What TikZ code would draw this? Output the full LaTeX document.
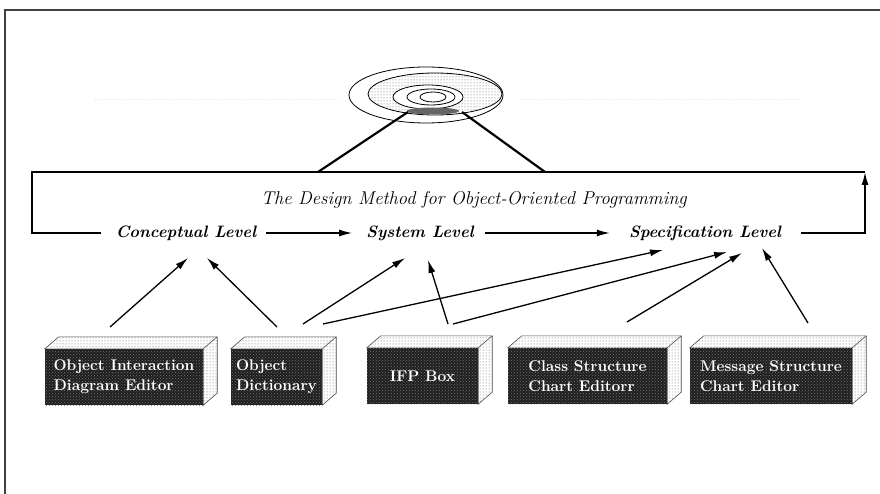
\documentclass[tikz,border=0pt]{standalone}
\usepackage{fontspec}
\usepackage{tikz}
\usetikzlibrary{arrows.meta,patterns}

\begin{document}
\begin{tikzpicture}[x=1pt,y=-1pt,>={Latex[length=13pt,width=7pt]}]
	\tikzstyle{every node}=[inner sep=0pt]
	\tikzstyle{level}=[font=\fontsize{16.5}{18}\selectfont\bfseries\itshape]
	\tikzstyle{tool}=[fill=black!88, postaction={pattern=crosshatch dots, pattern color=black!55}, text=white, font=\fontsize{15.5}{20}\selectfont\bfseries, align=left, minimum height=56pt]
	\tikzstyle{face}=[draw=black!70, line width=0.6pt, pattern=dots, pattern color=black!65]
	\tikzstyle{link}=[->, line width=1.3pt]
	\tikzstyle{loop}=[line width=1.6pt]
	
	\useasboundingbox (0,0) rectangle (880,494);
	
	% outer frame
	\draw[black!75, line width=1.4pt] (5,494) -- (5,10) -- (880,10);
	\draw[black!12, dotted, line width=1pt] (95,100) -- (340,100) (520,100) -- (800,100);
	
	% the target
	\filldraw[fill=white, line width=0.8pt] (426,95) ellipse [x radius=77, y radius=28];
	\draw[pattern=dots, pattern color=black!65, line width=0.8pt] (435,94) ellipse [x radius=67, y radius=21];
	\filldraw[fill=white, line width=0.8pt] (428,97) ellipse [x radius=35, y radius=12];
	\draw[line width=0.8pt] (431,97) ellipse [x radius=24, y radius=8];
	\draw[line width=0.8pt] (433,97) ellipse [x radius=13, y radius=5];
	\fill[black!60] (433,111) ellipse [x radius=26, y radius=3.5];
	
	% levels
	\node (title) at (474,200) {\fontsize{18.5}{20}\selectfont\itshape The Design Method for Object-Oriented Programming};
	\node[level] (con) at (186,233) {Conceptual Level};
	\node[level] (sys) at (420,233) {System Level};
	\node[level] (spec) at (705,233) {Specification Level};
	
	\coordinate (lt) at (32,172);
	\coordinate (rt) at (865,172);
	\coordinate (tl) at (408,112);
	\coordinate (tr) at (462,112);
	\coordinate (tlb) at (318,172);
	\coordinate (trb) at (545,172);
	
	\draw[link] ([xshift=10pt]con.east) -- ([xshift=-14pt]sys.west);
	\draw[link] ([xshift=11pt]sys.east) -- ([xshift=-19pt]spec.west);
	\draw[loop, ->] ([xshift=20pt]spec.east) -- (rt |- spec) -- (rt);
	\draw[loop] (rt) -- (lt) -- (lt |- con) -- ([xshift=-15pt]con.west);
	\draw[line width=2.2pt] (tl) -- (tlb) (tr) -- (trb);
	
	% tool boxes
	\node[tool, minimum width=158pt] (b1) at (124,377) {Object Interaction\\Diagram Editor};
	\node[tool, minimum width=91pt] (b2) at (276.5,377) {Object\\Dictionary};
	\node[tool, minimum width=111pt] (b3) at (422.5,376) {IFP Box};
	\node[tool, minimum width=159pt] (b4) at (587.5,376) {Class Structure\\Chart Editorr};
	\node[tool, minimum width=162pt] (b5) at (771,376) {Message Structure\\Chart Editor};
	
	\foreach \b in {b1,b2,b3,b4,b5} {
		\draw[face, preaction={fill=white}] (\b.north west) -- ([shift={(14,-12)}]\b.north west) -- ([shift={(14,-12)}]\b.north east) -- ([shift={(14,-12)}]\b.south east) -- (\b.south east) -- (\b.north east) -- cycle;
		\draw[black!70, line width=0.6pt] (\b.north east) -- ([shift={(14,-12)}]\b.north east);
	}
	
	% which tool feeds which level
	\draw[link] ([xshift=-14pt,yshift=50pt]b1.center) -- ([xshift=2pt,yshift=-25pt]con.center);
	\draw[link] ([xshift=0.5pt,yshift=50pt]b2.center) -- ([xshift=21pt,yshift=-25pt]con.center);
	\draw[link] ([xshift=26.5pt,yshift=53pt]b2.center) -- ([xshift=-15pt,yshift=-25pt]sys.center);
	\draw[link] ([xshift=46.5pt,yshift=53pt]b2.center) -- ([xshift=-42pt,yshift=-17pt]spec.center);
	\draw[link] ([xshift=25.5pt,yshift=52pt]b3.center) -- ([xshift=8pt,yshift=-27pt]sys.center);
	\draw[link] ([xshift=30.5pt,yshift=52pt]b3.center) -- ([xshift=22pt,yshift=-19pt]spec.center);
	\draw[link] ([xshift=39.5pt,yshift=54pt]b4.center) -- ([xshift=37pt,yshift=-20pt]spec.center);
	\draw[link] ([xshift=37pt,yshift=53pt]b5.center) -- ([xshift=57pt,yshift=-15pt]spec.center);
	
\end{tikzpicture}
\end{document}
